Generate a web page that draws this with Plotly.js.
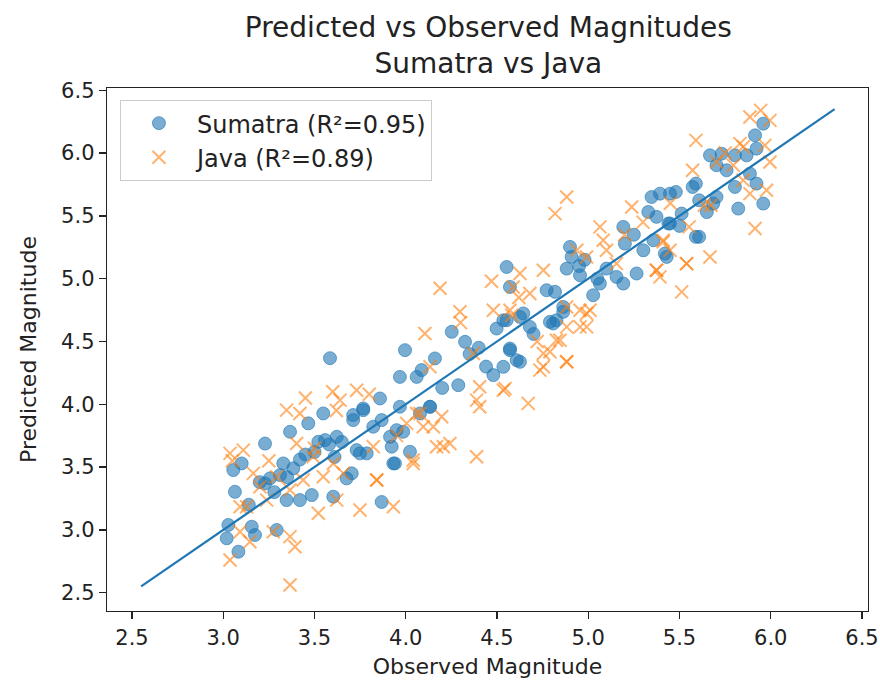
<!DOCTYPE html>
<html>
<head>
<meta charset="utf-8">
<script src="https://cdn.plot.ly/plotly-3.0.1.min.js"></script>
<style>html,body{margin:0;padding:0;background:#fff;}#chart{width:880px;height:687px;}</style>
</head>
<body>
<div id="chart"></div>
<script>
// Sumatra observed / predicted
const sumatraObs = [3.229,3.366,3.466,3.548,3.055,3.101,3.064,3.028,3.019,3.083,3.174,3.156,3.293,3.229,3.256,3.311,3.329,3.384,3.347,3.420,3.485,3.603,3.521,3.558,3.676,3.622,3.712,3.767,3.868,3.941,3.923,4.023,3.986,3.786,3.731,3.822,3.868,4.133,3.968,
3.585,3.996,4.252,4.325,4.160,4.087,4.060,3.968,3.859,3.767,3.712,4.133,4.078,3.950,3.914,3.932,3.749,3.704,4.288,4.480,4.571,4.626,4.498,4.553,4.644,4.790,4.863,
5.347,5.448,5.572,5.329,5.439,5.590,5.430,5.192,5.201,5.302,5.265,5.155,5.192,5.064,5.027,4.900,4.909,4.882,4.955,4.772,4.818,4.863,4.826,4.808,4.553,4.571,4.626,4.680,4.535,4.571,4.608,4.535,
5.959,5.914,5.922,5.868,5.667,5.731,5.804,5.758,5.703,5.886,5.922,5.804,5.822,5.959,5.590,5.480,5.393,5.608,5.685,5.703,5.512,5.448,5.608,5.420,5.357,5.374,
3.140,3.200,3.280,3.420,3.500,3.610,3.650,4.200,4.400,4.440,4.700,4.980,5.100,5.250,5.500,5.650,5.050,4.950,3.350,3.450,3.580,4.350];
const sumatraPred = [3.687,3.781,3.848,3.927,3.476,3.529,3.303,3.039,2.933,2.826,2.959,3.025,2.999,3.370,3.410,3.436,3.529,3.490,3.237,3.237,3.277,3.264,3.701,3.715,3.410,3.741,3.914,3.967,3.222,3.529,3.662,3.622,3.781,3.609,3.635,3.821,3.874,3.980,3.980,
4.367,4.431,4.577,4.497,4.365,4.272,4.218,4.218,4.046,3.953,3.874,3.980,3.927,3.794,3.741,3.529,3.609,3.450,4.152,4.232,4.431,4.338,4.603,4.669,4.723,4.656,4.736,
5.650,5.677,5.730,5.531,5.439,5.333,5.173,5.412,5.279,5.226,5.041,5.014,4.961,4.961,4.868,5.253,5.173,5.080,5.027,4.908,4.895,4.775,4.669,4.643,5.093,4.934,4.695,4.616,4.669,4.444,4.351,4.298,
6.234,6.141,6.035,5.982,5.982,5.995,5.982,5.863,5.903,5.836,5.757,5.730,5.558,5.598,5.757,5.690,5.677,5.624,5.598,5.650,5.518,5.439,5.333,5.200,5.306,5.492,
3.200,3.380,3.300,3.560,3.620,3.580,3.700,4.130,4.450,4.300,4.560,5.150,5.080,5.350,5.420,5.530,5.000,5.100,3.420,3.600,3.680,4.400];

// Java observed / predicted
const javaObs = [4.105,4.297,4.480,4.581,4.370,4.405,4.388,4.405,4.535,4.671,4.754,4.882,4.790,4.955,4.991,4.826,3.731,4.133,4.197,4.242,4.169,4.388,4.041,3.841,3.822,4.060,4.096,
4.882,4.818,5.238,5.064,5.082,4.937,4.991,4.754,4.626,4.589,4.680,5.100,5.155,5.374,5.393,5.539,5.512,5.411,4.882,4.955,5.010,4.991,4.882,4.845,4.754,4.882,4.735,4.544,4.571,
5.945,5.886,5.996,5.590,5.831,5.968,5.996,5.703,5.795,5.849,5.977,5.886,5.636,5.672,5.914,5.553,5.667,5.539,5.411,5.374,5.448,5.572,
3.366,3.037,3.110,3.037,3.146,3.092,3.366,3.393,3.274,3.165,3.128,3.238,3.366,3.347,3.420,3.402,3.521,3.640,3.658,3.622,3.749,3.841,3.932,4.041,4.005,4.151,4.206,4.078,3.493,3.603,3.548,3.438,3.293,3.201,3.092,
4.188,4.470,3.450,3.600,3.620,3.800,4.300,4.620,5.200,5.300,5.450,5.750,5.850,3.050,3.250,3.500,3.950,4.720];
const javaPred = [4.563,4.736,4.749,4.709,4.404,4.139,4.033,3.980,4.112,4.007,4.298,4.338,4.418,4.616,4.723,4.510,4.112,4.298,3.901,3.688,3.662,3.582,3.556,3.397,3.662,3.927,3.821,
5.650,5.518,5.571,5.412,5.306,5.226,5.173,5.067,5.041,4.934,4.882,5.226,5.120,5.067,5.014,5.120,4.895,5.293,4.775,4.749,4.749,4.616,4.616,4.510,4.404,4.338,4.272,4.126,4.749,
6.340,6.287,6.260,6.101,6.075,6.061,5.929,5.929,5.903,5.783,5.704,5.677,5.584,5.584,5.399,5.412,5.173,5.120,5.306,5.067,5.226,5.863,
2.561,3.609,3.635,2.760,2.906,2.985,2.946,2.866,2.985,3.450,3.184,3.237,3.317,3.953,3.927,3.688,3.132,4.033,3.450,3.237,3.158,3.397,3.184,3.529,3.848,3.821,3.662,3.927,3.582,3.529,3.423,3.397,3.423,3.343,3.184,
4.923,4.980,4.050,4.100,3.950,4.080,4.650,4.850,5.350,5.450,5.600,6.000,6.050,3.550,3.550,3.650,3.750,4.500];

const lineX = [2.55, 6.35];
const lineY = [2.55, 6.35];
const sumatraR2 = 0.95, javaR2 = 0.89;

const font = 'DejaVu Sans, Arial, sans-serif';
const traces = [
  {x: sumatraObs, y: sumatraPred, type: 'scatter', mode: 'markers', name: 'Sumatra (R²=' + sumatraR2.toFixed(2) + ')',
   marker: {symbol: 'circle', size: 13, color: 'rgba(31,119,180,0.6)', line: {color: 'rgba(31,119,180,0.6)', width: 1}}},
  {x: javaObs, y: javaPred, type: 'scatter', mode: 'markers', name: 'Java (R²=' + javaR2.toFixed(2) + ')',
   marker: {symbol: 'x-thin-open', size: 13, color: 'rgba(255,127,14,0.6)', line: {color: 'rgba(255,127,14,0.6)', width: 2}}},
  {x: lineX, y: lineY, type: 'scatter', mode: 'lines', showlegend: false, line: {color: '#1f77b4', width: 2.2}}
];
const axisCommon = {showgrid: false, zeroline: false, showline: true, mirror: true, linecolor: '#222', linewidth: 1.3,
  ticks: 'outside', ticklen: 7, tickwidth: 1.3, tickcolor: '#222', tickfont: {family: font, size: 21, color: '#222'}, dtick: 0.5, tickformat: '.1f'};
const layout = {
  width: 880, height: 687,
  margin: {l: 107, r: 12, t: 88, b: 76},
  paper_bgcolor: '#fff', plot_bgcolor: '#fff',
  title: {text: 'Predicted vs Observed Magnitudes<br>Sumatra vs Java', font: {family: font, size: 28, color: '#222'},
          x: 0.5549, xanchor: 'center', yref: 'container', y: 0.946, yanchor: 'top'},
  xaxis: Object.assign({}, axisCommon, {range: [2.363, 6.533], title: {text: 'Observed Magnitude', font: {family: font, size: 22, color: '#222'}, standoff: 10}}),
  yaxis: Object.assign({}, axisCommon, {range: [2.354, 6.518], title: {text: 'Predicted Magnitude', font: {family: font, size: 22, color: '#222'}, standoff: 18}}),
  legend: {x: 0.017, y: 0.977, xanchor: 'left', yanchor: 'top', bgcolor: 'rgba(255,255,255,0.8)', bordercolor: '#ccc', borderwidth: 1,
           font: {family: font, size: 24, color: '#222'}, itemwidth: 66},
  showlegend: true
};
Plotly.newPlot('chart', traces, layout, {displayModeBar: false, staticPlot: true});
</script>
</body>
</html>
